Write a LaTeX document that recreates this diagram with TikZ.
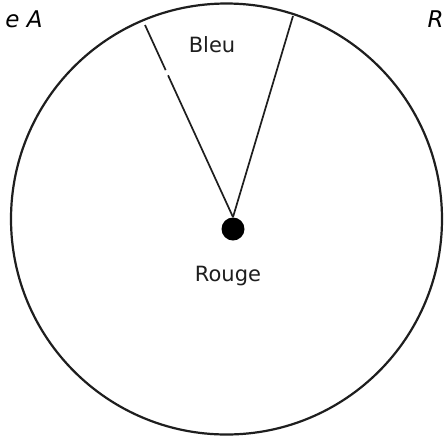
\documentclass[tikz,border=0pt]{standalone}
\usepackage{fontspec}
\setmainfont{DejaVu Sans}
\usepackage{xcolor}
\usetikzlibrary{positioning,calc}
\definecolor{inkgrey}{HTML}{1E1E1E}
\tikzset{
  wheel/.style  = {draw=inkgrey, line width=1.1pt},
  spoke/.style  = {draw=inkgrey, line width=0.85pt},
  hub/.style    = {circle, fill=black, inner sep=0pt, minimum size=11.5pt},
  lab/.style    = {font=\fontsize{10.5}{12}\selectfont, text=inkgrey, inner sep=0pt},
  edgelab/.style = {font=\fontsize{11.5}{13}\selectfont\itshape, text=black, inner sep=0pt},
}

\begin{document}
\begin{tikzpicture}[x=0.5pt, y=-0.5pt]
  \clip (0,0) rectangle (445,436);
  \fill[white] (0,0) rectangle (445,436);

  % wheel and its centre
  \draw[wheel] (226.5,219) circle[radius=215.5];
  \node[hub] (hub) at (233,229) {};

  % ends of the two spokes on the rim
  \coordinate (rimL) at (145,25);
  \coordinate (rimR) at (293,16);

  % left spoke has a small break in it
  \draw[spoke] (rimL) -- ($(rimL)!0.235!(hub.north)$);
  \draw[spoke] ($(rimL)!0.262!(hub.north)$) -- (hub.north);
  \draw[spoke] (rimR) -- (hub.north);

  \node[lab] (bleu)  at (212,45)  {Bleu};
  \node[lab] (rouge) at (228,276) {Rouge};

  % texts at the top corners
  \node[edgelab, anchor=east] (cornerL) at (43,19) {e A};
  \node[edgelab, anchor=east] (cornerR) at (444,19) {R};
\end{tikzpicture}
\end{document}
